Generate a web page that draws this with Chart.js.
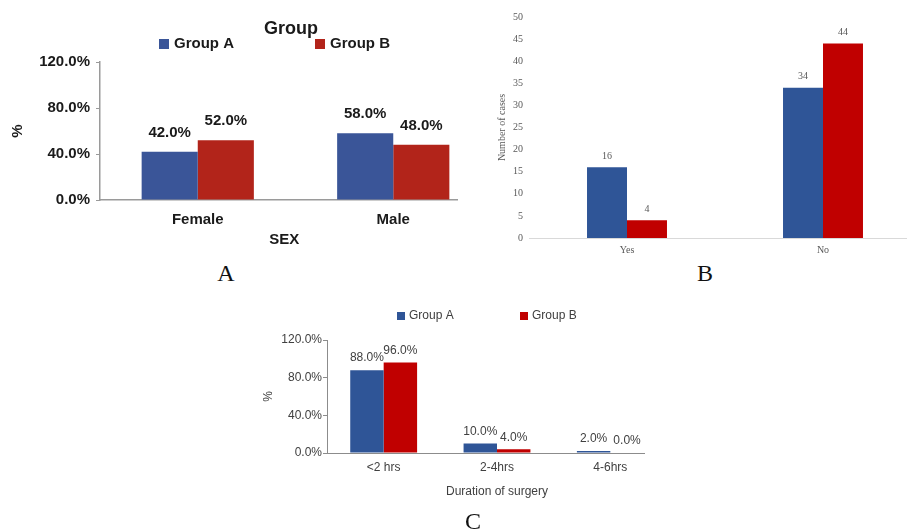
<!DOCTYPE html>
<html>
<head>
<meta charset="utf-8">
<script src="https://cdn.jsdelivr.net/npm/chart.js@4"></script>
<style>
  html, body { margin: 0; padding: 0; background: #fff; }
  body { width: 907px; height: 532px; position: relative; overflow: hidden; }
  .panel { position: absolute; overflow: hidden; }
  .tag { position: absolute; font-family: "Liberation Serif", serif; font-size: 24px; color: #111; transform: translate(-50%, -50%); }
</style>
</head>
<body>
<div class="panel" style="left:0;top:0;width:458px;height:258px"><canvas id="sexChart" width="500" height="258"></canvas></div>
<div class="panel" style="left:460px;top:0;width:447px;height:258px"><canvas id="casesChart" width="470" height="258"></canvas></div>
<div class="panel" style="left:255px;top:285px;width:390px;height:225px"><canvas id="durationChart" width="420" height="225"></canvas></div>
<div class="tag" style="left:226px;top:273px">A</div>
<div class="tag" style="left:705px;top:273px">B</div>
<div class="tag" style="left:473px;top:521px">C</div>
<script>
// Panel A: sex distribution (%)
const sexCategories = ['Female', 'Male'];
const sexGroupA = [42, 58];
const sexGroupB = [52, 48];
const pctTicks = [0, 40, 80, 120];

// Panel B: number of cases
const casesCategories = ['Yes', 'No'];
const casesGroupA = [16, 34];
const casesGroupB = [4, 44];
const casesTicks = [0, 5, 10, 15, 20, 25, 30, 35, 40, 45, 50];

// Panel C: duration of surgery (%)
const durationCategories = ['<2 hrs', '2-4hrs', '4-6hrs'];
const durationGroupA = [88, 10, 2];
const durationGroupB = [96, 4, 0];

const seriesNames = ['Group A', 'Group B'];

const pct = v => v.toFixed(1) + '%';

// Writes each bar's value just above its top
const valueLabels = {
  id: 'valueLabels',
  afterDatasetsDraw(chart, args, o) {
    const ctx = chart.ctx;
    ctx.save();
    ctx.font = o.font;
    ctx.fillStyle = o.color;
    ctx.textAlign = 'center';
    ctx.textBaseline = 'middle';
    chart.data.datasets.forEach((ds, i) => {
      chart.getDatasetMeta(i).data.forEach((bar, j) => {
        ctx.fillText(o.format(ds.data[j]), bar.x, bar.y - o.offset);
      });
    });
    ctx.restore();
  }
};

// Legend with explicit item positions
const placedLegend = {
  id: 'placedLegend',
  afterDraw(chart, args, o) {
    if (!o.x) return;
    const ctx = chart.ctx;
    ctx.save();
    ctx.textBaseline = 'middle';
    ctx.textAlign = 'left';
    if (o.title) {
      ctx.font = o.titleFont;
      ctx.fillStyle = o.color;
      ctx.textAlign = 'center';
      ctx.fillText(o.title, o.titleX, o.titleY);
      ctx.textAlign = 'left';
    }
    ctx.font = o.font;
    chart.data.datasets.forEach((ds, i) => {
      const x = o.x[i];
      ctx.fillStyle = ds.backgroundColor;
      ctx.fillRect(x, o.y - o.box / 2, o.box, o.box);
      ctx.fillStyle = o.color;
      ctx.fillText(ds.label, x + o.box + o.gap, o.y);
    });
    ctx.restore();
  }
};

Chart.register(valueLabels, placedLegend);

const fixedTicks = list => scale => { scale.ticks = list.map(v => ({ value: v })); };

// ---------- Panel A ----------
const fontA = 'Liberation Sans, Arial, sans-serif';
new Chart(document.getElementById('sexChart'), {
  type: 'bar',
  data: {
    labels: sexCategories,
    datasets: [
      { label: seriesNames[0], data: sexGroupA, backgroundColor: '#3A5598' },
      { label: seriesNames[1], data: sexGroupB, backgroundColor: '#B2241A' }
    ]
  },
  options: {
    responsive: false,
    animation: false,
    layout: { padding: { top: 62, right: 9, bottom: 0, left: 0 } },
    datasets: { bar: { categoryPercentage: 0.574, barPercentage: 1 } },
    plugins: {
      legend: { display: false },
      tooltip: { enabled: false },
      valueLabels: { font: 'bold 15px ' + fontA, color: '#1a1a1a', offset: 19, format: pct },
      placedLegend: {
        x: [159, 315], y: 44, box: 10, gap: 5,
        font: 'bold 15px ' + fontA, color: '#1a1a1a',
        title: 'Group', titleFont: 'bold 18px ' + fontA, titleX: 291, titleY: 29
      }
    },
    scales: {
      x: {
        grid: { display: false, drawTicks: false },
        border: { display: true, color: '#9a9a9a', width: 1.5 },
        ticks: { font: { family: fontA, size: 15, weight: 'bold' }, color: '#1a1a1a', padding: 11 },
        // trailing spaces nudge the centred title toward the left
        title: { display: true, text: 'SEX\u2003\u2002', font: { family: fontA, size: 15, weight: 'bold' }, color: '#1a1a1a', padding: { top: 0, bottom: 9 } },
        afterFit: s => { s.height = 58; }
      },
      y: {
        min: 0, max: 120,
        afterBuildTicks: fixedTicks(pctTicks),
        grid: { display: true, drawOnChartArea: false, drawTicks: true, tickLength: 4, color: '#9a9a9a' },
        border: { display: true, color: '#9a9a9a', width: 1.5 },
        ticks: { font: { family: fontA, size: 15, weight: 'bold' }, color: '#1a1a1a', padding: 6, callback: v => pct(v) },
        title: { display: true, text: '%', font: { family: fontA, size: 15, weight: 'bold' }, color: '#1a1a1a', padding: { top: 9, bottom: 0 } },
        afterFit: s => { s.width = 100; }
      }
    }
  }
});

// ---------- Panel B ----------
const fontB = 'Liberation Serif, Times New Roman, serif';
new Chart(document.getElementById('casesChart'), {
  type: 'bar',
  data: {
    labels: casesCategories,
    datasets: [
      { label: seriesNames[0], data: casesGroupA, backgroundColor: '#2F5597' },
      { label: seriesNames[1], data: casesGroupB, backgroundColor: '#C00000' }
    ]
  },
  options: {
    responsive: false,
    animation: false,
    layout: { padding: { top: 17, right: 9, bottom: 0, left: 0 } },
    datasets: { bar: { categoryPercentage: 0.408, barPercentage: 1 } },
    plugins: {
      legend: { display: false },
      tooltip: { enabled: false },
      valueLabels: { font: '10px ' + fontB, color: '#595959', offset: 11, format: v => String(v) }
    },
    scales: {
      x: {
        grid: { display: false, drawTicks: false },
        border: { display: true, color: '#d9d9d9', width: 1 },
        ticks: { font: { family: fontB, size: 10 }, color: '#595959', padding: 6 },
        afterFit: s => { s.height = 20; }
      },
      y: {
        min: 0, max: 50,
        afterBuildTicks: fixedTicks(casesTicks),
        grid: { display: false, drawTicks: false },
        border: { display: false },
        ticks: { font: { family: fontB, size: 10 }, color: '#595959', padding: 6 },
        title: { display: true, text: 'Number of cases', font: { family: fontB, size: 10 }, color: '#595959', padding: { top: 36, bottom: 0 } },
        afterFit: s => { s.width = 69; }
      }
    }
  }
});

// ---------- Panel C ----------
const fontC = 'Liberation Sans, Arial, sans-serif';
new Chart(document.getElementById('durationChart'), {
  type: 'bar',
  data: {
    labels: durationCategories,
    datasets: [
      { label: seriesNames[0], data: durationGroupA, backgroundColor: '#2F5597' },
      { label: seriesNames[1], data: durationGroupB, backgroundColor: '#C00000' }
    ]
  },
  options: {
    responsive: false,
    animation: false,
    layout: { padding: { top: 55, right: 8, bottom: 0, left: 0 } },
    datasets: { bar: { categoryPercentage: 0.59, barPercentage: 1 } },
    plugins: {
      legend: { display: false },
      tooltip: { enabled: false },
      valueLabels: { font: '12px ' + fontC, color: '#404040', offset: 12, format: pct },
      placedLegend: { x: [142, 265], y: 31, box: 8, gap: 4, font: '12px ' + fontC, color: '#404040' }
    },
    scales: {
      x: {
        grid: { display: false, drawTicks: false },
        border: { display: true, color: '#8c8c8c', width: 1 },
        ticks: { font: { family: fontC, size: 12 }, color: '#404040', padding: 7 },
        title: { display: true, text: 'Duration of surgery', font: { family: fontC, size: 12 }, color: '#404040', padding: { top: 0, bottom: 11 } },
        afterFit: s => { s.height = 57; }
      },
      y: {
        min: 0, max: 120,
        afterBuildTicks: fixedTicks(pctTicks),
        grid: { display: true, drawOnChartArea: false, drawTicks: true, tickLength: 4, color: '#8c8c8c' },
        border: { display: true, color: '#8c8c8c', width: 1 },
        ticks: { font: { family: fontC, size: 12 }, color: '#404040', padding: 1, callback: v => pct(v) },
        title: { display: true, text: '%', font: { family: fontC, size: 12 }, color: '#404040', padding: { top: 6, bottom: 0 } },
        afterFit: s => { s.width = 72; }
      }
    }
  }
});
</script>
</body>
</html>
